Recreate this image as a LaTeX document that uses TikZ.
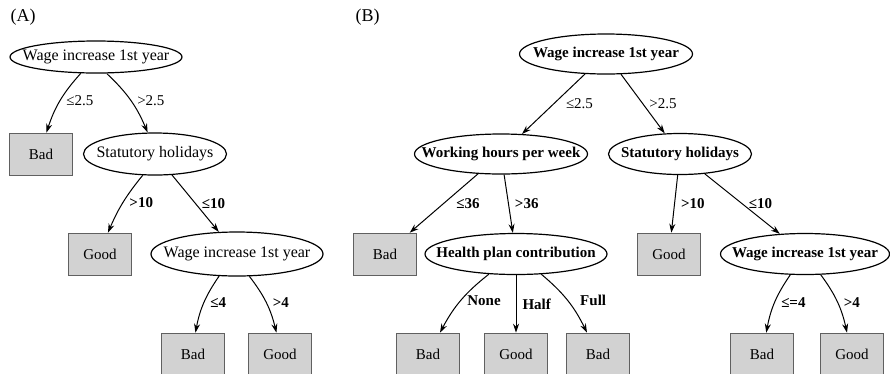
\documentclass[tikz,border=0pt]{standalone}
\usepackage{fontspec}
\setmainfont{Liberation Serif}
\usepackage{tikz}
\usetikzlibrary{shapes.geometric, arrows.meta}
\tikzstyle{test} = [ellipse, draw=black, line width=1.2pt, inner xsep=-30pt, inner ysep=0pt, font=\fontsize{16}{19}\selectfont]
\tikzstyle{testbf} = [test, font=\fontsize{15}{18}\selectfont\bfseries]
\tikzstyle{leaf} = [rectangle, minimum width=63pt, minimum height=42pt, text centered, draw=gray!75!black, line width=0.6pt, fill=gray!35, font=\fontsize{15}{18}\selectfont]
\tikzstyle{arrow} = [line width=1pt,-{Stealth[length=9pt,width=6pt]}]
\tikzstyle{cond} = [right, inner sep=6pt, font=\fontsize{15}{18}\selectfont]
\tikzstyle{condbf} = [cond, font=\fontsize{15}{18}\selectfont\bfseries]

\begin{document}
\begin{tikzpicture}[node distance=100pt, x=1pt, y=1pt]
    \useasboundingbox (0,0) rectangle (890,-373);
    % tree (A)
    \node (TagA) [anchor=west, font=\fontsize{18}{20}\selectfont] at (7,-17) {(A)};
    \node (WageA) [test, minimum width=172pt, minimum height=32pt] at (96,-57) {Wage increase 1st year};
    \node (BadA) [leaf, below of = WageA, xshift = -55pt, yshift = 3pt] {Bad};
    \node (StatA) [test, below of = WageA, xshift = 59pt, yshift = 3pt, minimum width=143pt, minimum height=42pt] {Statutory holidays};
    \node (GoodA) [leaf, below of = StatA, xshift = -55pt] {Good};
    \node (WageA2) [test, below of = StatA, xshift = 82pt, minimum width=172pt, minimum height=44pt] {Wage increase 1st year};
    \node (BadA2) [leaf, below of = WageA2, xshift = -44pt] {Bad};
    \node (GoodA2) [leaf, below of = WageA2, xshift = 43pt] {Good};
    \draw [arrow] (WageA.-133) to [bend right=12] node [cond] {≤2.5} (BadA);
    \draw [arrow] (WageA.-57) to [bend left=12] node [cond] {>2.5} (StatA);
    \draw [arrow] (StatA.-120) to [bend right=8] node [condbf] {>10} (GoodA);
    \draw [arrow] (StatA.-51) -- node [condbf] {≤10} (WageA2);
    \draw [arrow] (WageA2.-129) to [bend right=12] node [condbf] {≤4} (BadA2);
    \draw [arrow] (WageA2.-61) to [bend left=12] node [condbf] {>4} (GoodA2);
    % tree (B)
    \node (TagB) [anchor=west, font=\fontsize{18}{20}\selectfont] at (352,-17) {(B)};
    \node (WageB) [testbf, minimum width=173pt, minimum height=40pt] at (606,-54) {Wage increase 1st year};
    \node (HoursB) [testbf, below of = WageB, xshift = -105pt, minimum width=173pt, minimum height=40pt] {Working hours per week};
    \node (StatB) [testbf, below of = WageB, xshift = 74pt, minimum width=143pt, minimum height=41pt] {Statutory holidays};
    \node (BadB) [leaf, below of = HoursB, xshift = -116pt] {Bad};
    \node (HealthB) [testbf, below of = HoursB, xshift = 15pt, minimum width=182pt, minimum height=41pt] {Health plan contribution};
    \node (BadB1) [leaf, below of = HealthB, xshift = -88pt] {Bad};
    \node (GoodB1) [leaf, below of = HealthB] {Good};
    \node (BadB2) [leaf, below of = HealthB, xshift = 82pt] {Bad};
    \node (GoodB) [leaf, below of = StatB, xshift = -11pt] {Good};
    \node (WageB2) [testbf, below of = StatB, xshift = 125pt, minimum width=169pt, minimum height=41pt] {Wage increase 1st year};
    \node (BadB3) [leaf, below of = WageB2, xshift = -43pt] {Bad};
    \node (GoodB3) [leaf, below of = WageB2, xshift = 47pt] {Good};
    \draw [arrow] (WageB) -- node [cond, inner sep=12pt] {≤2.5} (HoursB);
    \draw [arrow] (WageB) -- node [cond] {>2.5} (StatB);
    \draw [arrow] (HoursB) -- node [condbf, inner sep=12pt] {≤36} (BadB);
    \draw [arrow] (HoursB) -- node [condbf] {>36} (HealthB);
    \draw [arrow] (HealthB) to [bend right=12] node [condbf] {None} (BadB1);
    \draw [arrow] (HealthB) -- node [condbf] {Half} (GoodB1);
    \draw [arrow] (HealthB) to [bend left=12] node [condbf, inner sep=12pt] {Full} (BadB2);
    \draw [arrow] (StatB) -- node [condbf] {>10} (GoodB);
    \draw [arrow] (StatB) -- node [condbf] {≤10} (WageB2);
    \draw [arrow] (WageB2) to [bend right=12] node [condbf] {≤=4} (BadB3);
    \draw [arrow] (WageB2) to [bend left=12] node [condbf] {>4} (GoodB3);
\end{tikzpicture}
\end{document}
